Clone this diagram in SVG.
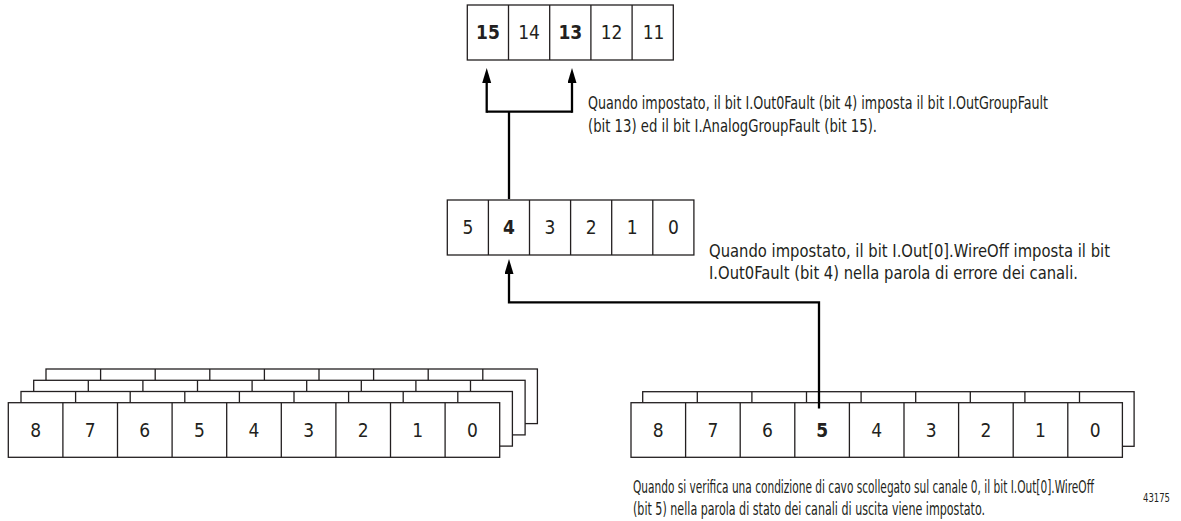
<svg xmlns="http://www.w3.org/2000/svg" xmlns:xlink="http://www.w3.org/1999/xlink" width="1181" height="521" viewBox="0 0 1181 521">
  <style>
    .cell { fill: #ffffff; stroke: #231f20; stroke-width: 1.3; }
    .div { stroke: #231f20; stroke-width: 1.3; }
    .num { font-family: "Liberation Sans Narrow", "DejaVu Sans Condensed", "Liberation Sans", sans-serif; font-size: 19px; fill: #231f20; text-anchor: middle; }
    .b { font-weight: bold; }
    .note { font-family: "DejaVu Sans Condensed", "Liberation Sans", sans-serif; font-size: 18px; fill: #231f20; }
    .fig { font-family: "DejaVu Sans Condensed", "Liberation Sans", sans-serif; font-size: 13px; fill: #231f20; }
    .wire { fill: none; stroke: #000000; stroke-width: 2.3; }
  </style>
  <defs>
    <marker id="head" markerUnits="userSpaceOnUse" markerWidth="16" markerHeight="10" refX="0" refY="4.5" orient="auto">
      <path d="M0,0 L15,4.5 L0,9 z" fill="#000000"/>
    </marker>
    <!-- one nine-cell word, used for the stacked back layers -->
    <g id="row9">
      <rect class="cell" x="0" y="0" width="491.4" height="54.6"/>
      <path class="div" d="M54.6,0 V54.6 M109.2,0 V54.6 M163.8,0 V54.6 M218.4,0 V54.6 M273,0 V54.6 M327.6,0 V54.6 M382.2,0 V54.6 M436.8,0 V54.6"/>
    </g>
  </defs>

  <!-- status word bits 15..11 -->
  <g id="group-word">
    <rect class="cell" x="467.3" y="5" width="206" height="55"/>
    <path class="div" d="M508.5,5 V60 M549.7,5 V60 M590.9,5 V60 M632.1,5 V60"/>
    <text class="num b" x="487.9" y="39.2">15</text>
    <text class="num" x="529.1" y="39.2">14</text>
    <text class="num b" x="570.3" y="39.2">13</text>
    <text class="num" x="611.5" y="39.2">12</text>
    <text class="num" x="653.5" y="39.2">11</text>
  </g>

  <!-- channel fault word bits 5..0 -->
  <g id="fault-word">
    <rect class="cell" x="447.3" y="200" width="246.6" height="55"/>
    <path class="div" d="M488.4,200 V255 M529.5,200 V255 M570.6,200 V255 M611.7,200 V255 M652.8,200 V255"/>
    <text class="num" x="467.9" y="234.2">5</text>
    <text class="num b" x="509" y="234.2">4</text>
    <text class="num" x="550" y="234.2">3</text>
    <text class="num" x="591.2" y="234.2">2</text>
    <text class="num" x="632.3" y="234.2">1</text>
    <text class="num" x="673.4" y="234.2">0</text>
  </g>

  <!-- stacked channel words, left -->
  <g id="stack-left">
    <use xlink:href="#row9" href="#row9" x="46" y="369"/>
    <use xlink:href="#row9" href="#row9" x="33.7" y="380.3"/>
    <use xlink:href="#row9" href="#row9" x="21" y="391.5"/>
    <use xlink:href="#row9" href="#row9" x="8.3" y="402.7"/>
    <text class="num" x="35.6" y="436.7">8</text>
    <text class="num" x="90.2" y="436.7">7</text>
    <text class="num" x="144.8" y="436.7">6</text>
    <text class="num" x="199.4" y="436.7">5</text>
    <text class="num" x="254" y="436.7">4</text>
    <text class="num" x="308.6" y="436.7">3</text>
    <text class="num" x="363.2" y="436.7">2</text>
    <text class="num" x="417.8" y="436.7">1</text>
    <text class="num" x="472.4" y="436.7">0</text>
  </g>

  <!-- output channel status word, right -->
  <g id="stack-right">
    <use xlink:href="#row9" href="#row9" x="642.7" y="391.7"/>
    <use xlink:href="#row9" href="#row9" x="631" y="402.7"/>
    <text class="num" x="658.3" y="436.7">8</text>
    <text class="num" x="712.9" y="436.7">7</text>
    <text class="num" x="767.5" y="436.7">6</text>
    <text class="num b" x="822.1" y="436.7">5</text>
    <text class="num" x="876.7" y="436.7">4</text>
    <text class="num" x="931.3" y="436.7">3</text>
    <text class="num" x="985.9" y="436.7">2</text>
    <text class="num" x="1040.5" y="436.7">1</text>
    <text class="num" x="1095.1" y="436.7">0</text>
  </g>

  <!-- connectors -->
  <g id="connectors">
    <path class="wire" d="M819,408.5 V302.3 H509 V274" marker-end="url(#head)"/>
    <path class="wire" d="M509,199 V111.7"/>
    <path class="wire" d="M486.7,111.7 H572"/>
    <path class="wire" d="M486.7,112.8 V83" marker-end="url(#head)"/>
    <path class="wire" d="M572,112.8 V83" marker-end="url(#head)"/>
  </g>

  <!-- notes: condensed horizontally -->
  <g id="note-group">
    <text class="note" transform="translate(588,108.5) scale(0.6,1)" textLength="766.7" lengthAdjust="spacingAndGlyphs">Quando impostato, il bit I.Out0Fault (bit 4) imposta il bit I.OutGroupFault</text>
    <text class="note" transform="translate(588,131.5) scale(0.6,1)" textLength="481.7" lengthAdjust="spacingAndGlyphs">(bit 13) ed il bit I.AnalogGroupFault (bit 15).</text>
  </g>
  <g id="note-fault">
    <text class="note" transform="translate(709,256.5) scale(0.6,1)" textLength="668.3" lengthAdjust="spacingAndGlyphs">Quando impostato, il bit I.Out[0].WireOff imposta il bit</text>
    <text class="note" transform="translate(709,279) scale(0.6,1)" textLength="615" lengthAdjust="spacingAndGlyphs">I.Out0Fault (bit 4) nella parola di errore dei canali.</text>
  </g>
  <g id="note-status">
    <text class="note" transform="translate(633,492.5) scale(0.6,1)" textLength="768.3" lengthAdjust="spacingAndGlyphs">Quando si verifica una condizione di cavo scollegato sul canale 0, il bit I.Out[0].WireOff</text>
    <text class="note" transform="translate(633,515) scale(0.6,1)" textLength="586.7" lengthAdjust="spacingAndGlyphs">(bit 5) nella parola di stato dei canali di uscita viene impostato.</text>
  </g>
  <text class="fig" transform="translate(1143,501.5) scale(0.8,1)" textLength="33.75" lengthAdjust="spacingAndGlyphs">43175</text>
</svg>
